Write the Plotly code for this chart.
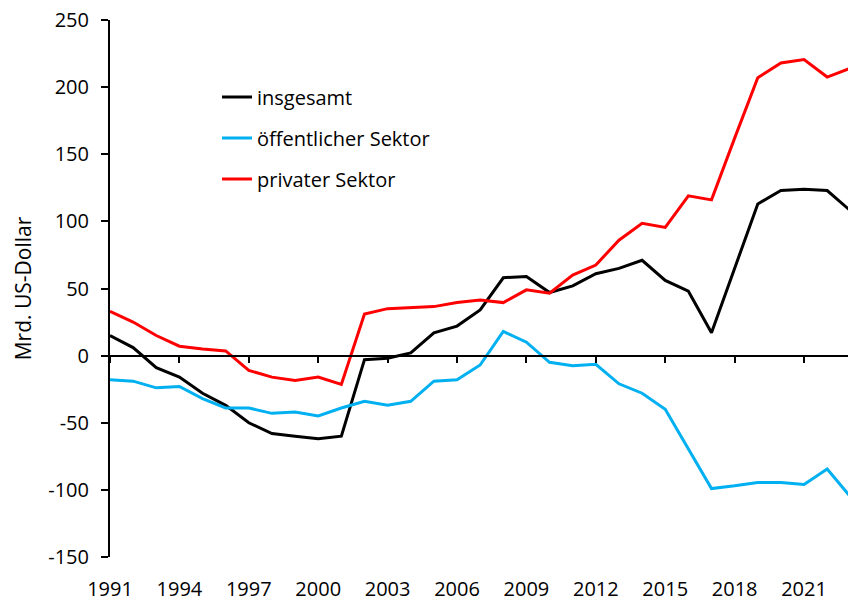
import plotly.graph_objects as go

years = list(range(1991, 2024))
insgesamt = [15, 6, -9, -16, -28, -37, -50, -58, -60, -62, -60, -3, -2, 2, 17, 22, 34, 58, 59, 47, 52, 61, 65, 71, 56, 48, 17, 65, 113, 123, 124, 123, 108]
oeffentlich = [-18, -19, -24, -23, -32, -39, -39, -43, -42, -45, -39, -34, -37, -34, -19, -18, -7, 18, 10, -5, -7.5, -6.5, -21, -28, -40, -70, -99, -97, -94.5, -94.5, -96, -84.5, -105]
privat = [33, 25, 15, 7, 5, 3.5, -11, -16, -18.5, -16, -21.5, 31, 35, 36, 36.5, 39.5, 41.5, 39.5, 49, 46.5, 60, 67.5, 86, 98.5, 95.5, 119, 116, 162, 207, 218, 220.5, 207.5, 214]
names = ["insgesamt", "öffentlicher Sektor", "privater Sektor"]
colors = ["#000000", "#00B0F0", "#FF0000"]
xticks = list(range(1991, 2022, 3))
yticks = list(range(-150, 251, 50))
ytext = [str(v) for v in yticks]  # plain hyphen-minus as in the original

FONT = "Open Sans"
fig = go.Figure()
series = [insgesamt, oeffentlich, privat]
for i, (name, vals, col) in enumerate(zip(names, series, colors)):
    fig.add_trace(go.Scatter(x=years, y=vals, mode="lines", name=name,
                             xaxis="x2" if i == 2 else "x",
                             line=dict(color=col, width=3), legendgroup=f"g{i}"))

fig.update_layout(
    width=848, height=601,
    margin=dict(l=110, r=0, t=20, b=44),
    plot_bgcolor="white", paper_bgcolor="white",
    font=dict(family=FONT, size=20, color="black"),
    showlegend=True,
    legend=dict(x=0.145, y=0.893, xanchor="left", yanchor="top",
                bgcolor="rgba(0,0,0,0)", tracegroupgap=12,
                font=dict(family=FONT, size=20, color="black")),
    xaxis=dict(range=[1991, 2022.9], tickvals=xticks, ticktext=[str(t) for t in xticks],
               showline=False, ticks="", showgrid=False, zeroline=False,
               ticklabelstandoff=18, tickfont=dict(size=20)),
    xaxis2=dict(overlaying="x", matches="x", anchor="free", position=0.375,
                showline=True, linecolor="black", linewidth=2,
                ticks="outside", ticklen=6, tickwidth=1.5, tickcolor="black",
                tickvals=xticks, showticklabels=False, showgrid=False, zeroline=False),
    yaxis=dict(range=[-150, 250], tickvals=yticks, ticktext=ytext, showline=True,
               linecolor="black", linewidth=2, ticks="outside", ticklen=7,
               tickwidth=1.5, tickcolor="black", tickfont=dict(size=20),
               showgrid=False, zeroline=False, ticklabelstandoff=8,
               title=dict(text="Mrd. US-Dollar", standoff=11, font=dict(size=21))),
)
fig.write_html("out.html")
